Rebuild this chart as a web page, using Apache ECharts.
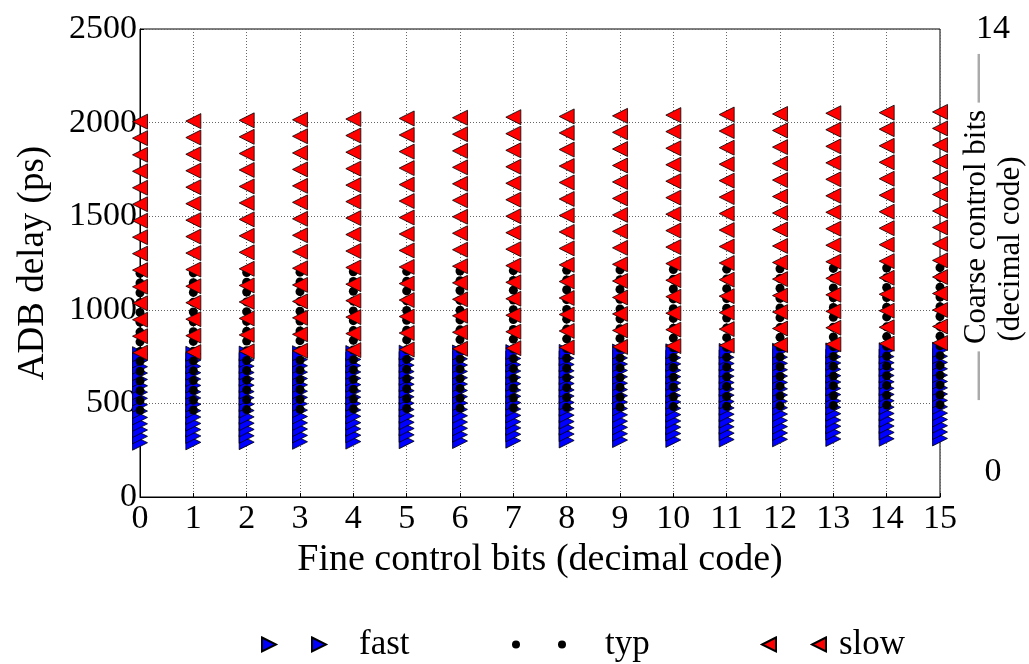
<!DOCTYPE html>
<html><head><meta charset="utf-8">
<script src="https://cdn.jsdelivr.net/npm/echarts@6/dist/echarts.min.js"></script>
<style>html,body{margin:0;padding:0;background:#fff}#c{width:1029px;height:664px}</style>
</head><body><div id="c"></div>
<script>
// Fine control code (x) and coarse codes 0..14 per column
const fineCodes = [0,1,2,3,4,5,6,7,8,9,10,11,12,13,14,15];
const coarseTicks = [0, 14];
const seriesNames = ['fast', 'typ', 'slow'];

// ADB delay (ps): one row per fine code, 15 coarse codes each
const fast = [
  [290,324,358,391,425,459,493,527,560,594,628,662,696,729,763],
  [292,326,360,393,427,461,495,529,562,596,630,664,698,731,765],
  [293,327,361,394,428,462,496,530,563,597,631,665,699,732,766],
  [295,329,363,396,430,464,498,532,565,599,633,667,701,734,768],
  [296,330,364,397,431,465,499,533,566,600,634,668,702,735,769],
  [298,332,366,399,433,467,501,535,568,602,636,670,704,737,771],
  [299,333,367,400,434,468,502,536,569,603,637,671,705,738,772],
  [301,335,369,402,436,470,504,538,571,605,639,673,707,740,774],
  [302,336,370,403,437,471,505,539,572,606,640,674,708,741,775],
  [304,338,372,405,439,473,507,541,574,608,642,676,710,743,777],
  [305,339,373,406,440,474,508,542,575,609,643,677,711,744,778],
  [307,341,375,408,442,476,510,544,577,611,645,679,713,746,780],
  [308,342,376,409,443,477,511,545,578,612,646,680,714,747,781],
  [310,344,378,411,445,479,513,547,580,614,648,682,716,749,783],
  [311,345,379,412,446,480,514,548,581,615,649,683,717,750,784],
  [313,347,381,414,448,482,516,550,583,617,651,685,719,752,786]
];
const typ = [
  [463,515,568,620,672,725,777,829,881,934,986,1038,1091,1143,1195],
  [465,517,570,622,674,727,779,831,883,936,988,1040,1093,1145,1197],
  [467,519,572,624,676,729,781,833,885,938,990,1042,1095,1147,1199],
  [469,521,574,626,678,731,783,835,887,940,992,1044,1097,1149,1201],
  [471,523,576,628,680,733,785,837,889,942,994,1046,1099,1151,1203],
  [473,525,578,630,682,735,787,839,891,944,996,1048,1101,1153,1205],
  [475,527,580,632,684,737,789,841,893,946,998,1050,1103,1155,1207],
  [477,529,582,634,686,739,791,843,895,948,1000,1052,1105,1157,1209],
  [479,531,584,636,688,741,793,845,897,950,1002,1054,1107,1159,1211],
  [481,533,586,638,690,743,795,847,899,952,1004,1056,1109,1161,1213],
  [483,535,588,640,692,745,797,849,901,954,1006,1058,1111,1163,1215],
  [485,537,590,642,694,747,799,851,903,956,1008,1060,1113,1165,1217],
  [487,539,592,644,696,749,801,853,905,958,1010,1062,1115,1167,1219],
  [489,541,594,646,698,751,803,855,907,960,1012,1064,1117,1169,1221],
  [491,543,596,648,700,753,805,857,909,962,1014,1066,1119,1171,1223],
  [493,545,598,650,702,755,807,859,911,964,1016,1068,1121,1173,1225]
];
const slow = [
  [771,859,947,1035,1123,1212,1300,1388,1476,1564,1652,1740,1828,1917,2005],
  [774,862,950,1038,1126,1215,1303,1391,1479,1567,1655,1743,1831,1920,2008],
  [778,866,954,1042,1130,1219,1307,1395,1483,1571,1659,1747,1835,1924,2012],
  [781,869,957,1045,1133,1222,1310,1398,1486,1574,1662,1750,1838,1927,2015],
  [785,873,961,1049,1137,1226,1314,1402,1490,1578,1666,1754,1842,1931,2019],
  [788,876,964,1052,1140,1229,1317,1405,1493,1581,1669,1757,1845,1934,2022],
  [792,880,968,1056,1144,1233,1321,1409,1497,1585,1673,1761,1849,1938,2026],
  [795,883,971,1059,1147,1236,1324,1412,1500,1588,1676,1764,1852,1941,2029],
  [799,887,975,1063,1151,1240,1328,1416,1504,1592,1680,1768,1856,1945,2033],
  [802,890,978,1066,1154,1243,1331,1419,1507,1595,1683,1771,1859,1948,2036],
  [806,894,982,1070,1158,1247,1335,1423,1511,1599,1687,1775,1863,1952,2040],
  [809,897,985,1073,1161,1250,1338,1426,1514,1602,1690,1778,1866,1955,2043],
  [812,900,988,1076,1164,1253,1341,1429,1517,1605,1693,1781,1869,1958,2046],
  [816,904,992,1080,1168,1257,1345,1433,1521,1609,1697,1785,1873,1962,2050],
  [819,907,995,1083,1171,1260,1348,1436,1524,1612,1700,1788,1876,1965,2053],
  [823,911,999,1087,1175,1264,1352,1440,1528,1616,1704,1792,1880,1969,2057]
];

const toPoints = rows => rows.flatMap((row, i) => row.map(v => [fineCodes[i], v]));
const FONT = 'Liberation Serif';
const chart = echarts.init(document.getElementById('c'), null, {renderer: 'canvas'});
const gridLine = {show: true, lineStyle: {color: '#666', width: 1, type: [1, 2]}};
const plain = v => String(v);

chart.setOption({
  animation: false,
  backgroundColor: '#fff',
  grid: {left: 140, right: 89, top: 29, bottom: 167, show: true, borderColor: '#000', borderWidth: 1,
         backgroundColor: 'transparent', outerBoundsMode: 'none', containLabel: false},
  xAxis: {
    type: 'value', min: 0, max: 15, interval: 1,
    name: 'Fine control bits (decimal code)', nameLocation: 'middle', nameGap: 40,
    nameTextStyle: {fontFamily: FONT, fontSize: 38, color: '#000'},
    axisLine: {show: true, lineStyle: {color: '#000', width: 1}},
    axisTick: {show: true, inside: true, length: 4, lineStyle: {color: '#000'}},
    axisLabel: {fontFamily: FONT, fontSize: 34, color: '#000', margin: 5, formatter: plain},
    splitLine: gridLine
  },
  yAxis: [{
    type: 'value', min: 0, max: 2500, interval: 500,
    name: 'ADB delay (ps)', nameLocation: 'middle', nameGap: 88, nameRotate: 90,
    nameTextStyle: {fontFamily: FONT, fontSize: 37, color: '#000'},
    axisLine: {show: true, lineStyle: {color: '#000', width: 1}},
    axisTick: {show: true, inside: true, length: 4, lineStyle: {color: '#000'}},
    axisLabel: {fontFamily: FONT, fontSize: 34, color: '#000', margin: 3, formatter: plain},
    splitLine: gridLine
  }, {
    type: 'value', position: 'right', min: -0.8, max: 14,
    name: '{d|—}{t| Coarse control bits }{d|—}\n{b|(decimal code)}',
    nameLocation: 'middle', nameGap: 20, nameRotate: 90, nameMoveOverlap: false,
    nameTextStyle: {
      fontFamily: FONT, fontSize: 31, color: '#000', padding: [0, 0, 0, 72],
      rich: {
        t: {fontFamily: FONT, fontSize: 31, color: '#000', lineHeight: 34},
        b: {fontFamily: FONT, fontSize: 31, color: '#000', lineHeight: 34, padding: [0, 44, 0, 0]},
        d: {fontFamily: FONT, fontSize: 48, color: '#aaa', lineHeight: 34}
      }
    },
    axisLine: {show: false},
    axisTick: {show: false},
    splitLine: {show: false},
    axisLabel: {show: true, customValues: coarseTicks, fontFamily: FONT, fontSize: 34, color: '#000', margin: 53, align: 'center', formatter: plain}
  }],
  legend: [{
    data: [{name: 'fast', icon: 'path://M0,0L14,7L0,14Z M50,0L64,7L50,14Z'}],
    left: 256, top: 622, itemWidth: 64, itemHeight: 14,
    textStyle: {fontFamily: FONT, fontSize: 35, color: '#000', padding: [0, 0, 0, 28]}
  }, {
    data: [{name: 'typ', icon: 'path://M0,4a4,4 0 1,0 8,0a4,4 0 1,0 -8,0Z M46,4a4,4 0 1,0 8,0a4,4 0 1,0 -8,0Z'}],
    left: 507, top: 622, itemWidth: 54, itemHeight: 8,
    textStyle: {fontFamily: FONT, fontSize: 35, color: '#000', padding: [0, 0, 0, 34]}
  }, {
    data: [{name: 'slow', icon: 'path://M14,0L0,7L14,14Z M64,0L50,7L64,14Z'}],
    left: 756, top: 622, itemWidth: 64, itemHeight: 14,
    textStyle: {fontFamily: FONT, fontSize: 35, color: '#000', padding: [0, 0, 0, 8]}
  }],
  series: [{
    name: seriesNames[0], type: 'scatter', data: toPoints(fast),
    symbol: 'path://M0,0L2,1L0,2Z', symbolSize: 15,
    itemStyle: {color: '#0000ff', borderColor: '#000', borderWidth: 0.8, opacity: 1}
  }, {
    name: seriesNames[1], type: 'scatter', data: toPoints(typ),
    symbol: 'circle', symbolSize: 9,
    itemStyle: {color: '#000', opacity: 1}
  }, {
    name: seriesNames[2], type: 'scatter', data: toPoints(slow),
    symbol: 'path://M2,0L0,1L2,2Z', symbolSize: 15,
    itemStyle: {color: '#ff0000', borderColor: '#000', borderWidth: 0.8, opacity: 1}
  }]
});
</script>
</body></html>
